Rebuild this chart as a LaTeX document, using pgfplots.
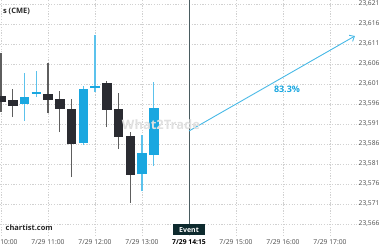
\documentclass[border=0pt]{standalone}
\usepackage{fontspec}
\setmainfont{Open Sans}
\usepackage{pgfplots}
\pgfplotsset{compat=1.18}
\usetikzlibrary{arrows.meta}
\definecolor{cblue}{HTML}{1AA7E0}
\definecolor{cbluewick}{HTML}{5CC2EC}
\definecolor{cdark}{HTML}{2A2B31}
\definecolor{cdarkwick}{HTML}{5E5E5E}
\definecolor{evline}{HTML}{4A5C60}
\definecolor{evbox}{HTML}{0E2A2E}
\definecolor{ticktxt}{HTML}{4A4A4A}
\newcommand{\bear}[5]{%
  \addplot[color=cdarkwick, line width=1.2bp] coordinates {(#1,#4) (#1,#3)};
  \addplot[color=cdark, line width=9.5bp] coordinates {(#1,#2) (#1,#5)};}
\newcommand{\bull}[5]{%
  \addplot[color=cbluewick, line width=1.2bp] coordinates {(#1,#4) (#1,#3)};
  \addplot[color=cblue, line width=9.5bp] coordinates {(#1,#2) (#1,#5)};}
\begin{document}
\begin{tikzpicture}
\path[use as bounding box] (0,0) rectangle (380bp,250bp);
\clip (0,0) rectangle (380bp,250bp);
\begin{axis}[
  at={(0bp,14bp)}, anchor=south west,
  scale only axis, width=357bp, height=236bp,
  xmin=9.9787, xmax=17.574, ymin=23563, ymax=23622,
  axis line style={draw=none}, major tick length=0pt,
  no markers,
  xtick={10,11,12,13,14,15,16,17},
  xticklabels={7/29 10:00,7/29 11:00,7/29 12:00,7/29 13:00,{\textbf{\color{black}7/29 14:15}},7/29 15:00,7/29 16:00,7/29 17:00},
  ytick={23566,23571,23576,23581,23586,23591,23596,23601,23606,23611,23616,23621},
  yticklabels={{23,566},{23,571},{23,576},{23,581},{23,586},{23,591},{23,596},{23,601},{23,606},{23,611},{23,616},{23,621}},
  yticklabel pos=right,
  ticklabel style={text=ticktxt},
  xticklabel style={font=\fontsize{6.8}{8}\selectfont, anchor=north, inner sep=0pt, yshift=-3bp},
  yticklabel style={font=\fontsize{6.7}{8}\selectfont, anchor=west, inner sep=0pt, xshift=1.5bp},
  grid=major,
  grid style={color=black!18, line width=0.6bp, dash pattern=on 1.2bp off 1.5bp},
]
% candles: t, open, high, low, close
\bear{10.00}{23598}{23608.75}{23594}{23596.5}
\bear{10.25}{23597}{23599.75}{23592.75}{23595.5}
\bull{10.50}{23596}{23603.75}{23591.75}{23597.75}
\addplot[color=cbluewick, line width=1.2bp] coordinates {(10.75,23597.75) (10.75,23604.25)};
\addplot[color=cblue, line width=1.2bp] coordinates {(10.65,23598.75) (10.85,23598.75)};
\bear{11.00}{23598.5}{23606.25}{23593.75}{23597}
\bear{11.25}{23597.25}{23599.25}{23589}{23594.75}
\bear{11.50}{23594.75}{23597.25}{23577.75}{23586}
\bull{11.75}{23586.25}{23600.5}{23585.75}{23599.75}
\addplot[color=cbluewick, line width=1.2bp] coordinates {(12.00,23599) (12.00,23613.25)};
\addplot[color=cblue, line width=1.2bp] coordinates {(11.90,23600.25) (12.10,23600.25)};
\bear{12.25}{23601.25}{23601.75}{23590.25}{23594.5}
\bear{12.50}{23594.75}{23598.75}{23584.75}{23587.75}
\bear{12.75}{23588}{23589}{23571.25}{23578.25}
\bull{13.00}{23578.5}{23588.25}{23574.25}{23583.75}
\bull{13.25}{23583.25}{23601.5}{23580.5}{23595}
% event line
\addplot[color=evline, line width=1bp] coordinates {(14,23566) (14,23622)};
% projection arrow
\addplot[color=cblue!80, line width=0.9bp, -{Straight Barb[length=4bp,width=7bp]}] coordinates {(14,23589.25) (17.53,23613)};
\end{axis}
% watermark
\node[anchor=center, text=black!12, font=\bfseries\fontsize{13}{14}\selectfont] at (161bp,125bp) {What2Trade};
% title & source
\node[anchor=east, inner sep=0pt, text=black!85, font=\bfseries\fontsize{7.5}{9}\selectfont] at (30bp,239bp) {s (CME)};
\node[anchor=east, inner sep=0pt, text=black!85, font=\bfseries\fontsize{7.5}{9}\selectfont] at (53bp,22bp) {chartist.com};
% percentage
\node[anchor=center, inner sep=0pt, text=cblue, font=\bfseries\fontsize{9}{10}\selectfont] at (287bp,161bp) {83.3\%};
% event box
\node[anchor=center, fill=evbox, text=white, inner sep=0pt, minimum width=32bp, minimum height=11bp, font=\bfseries\fontsize{7}{8}\selectfont] at (189bp,20bp) {Event};
\end{tikzpicture}
\end{document}
